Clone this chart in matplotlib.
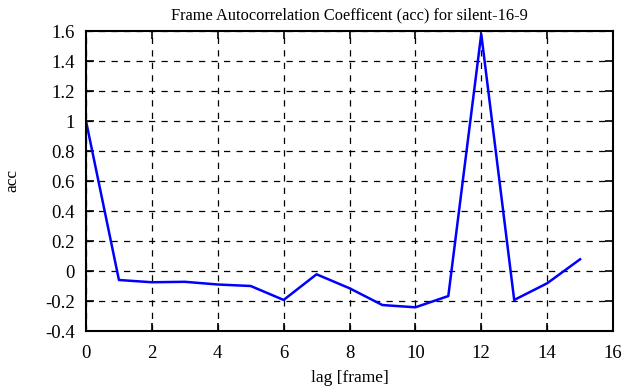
import matplotlib
matplotlib.use("Agg")
import matplotlib.pyplot as plt
from matplotlib.ticker import FuncFormatter, MultipleLocator

lags = list(range(16))
acc = [1.0, -0.06, -0.075, -0.072, -0.09, -0.10, -0.193, -0.022, -0.115,
       -0.227, -0.242, -0.167, 1.58, -0.193, -0.082, 0.078]

title = "Frame Autocorrelation Coefficent (acc) for silent-16-9"
xlabel = "lag [frame]"
ylabel = "acc"

plt.rcParams['font.family'] = ['Liberation Serif', 'DejaVu Serif']
fig = plt.figure(figsize=(6.3, 3.87), dpi=100)
ax = fig.add_axes([86/630, 1-331/387, (613-86)/630, (331-31)/387])
ax.plot(lags, acc, color='#0000ff', lw=1.8)
ax.set_xlim(0, 16)
ax.set_ylim(-0.4, 1.6)
ax.xaxis.set_major_locator(MultipleLocator(2))
ax.yaxis.set_major_locator(MultipleLocator(0.2))
ax.yaxis.set_major_formatter(FuncFormatter(lambda v, p: "%g" % round(v, 6)))
ax.grid(True, color='black', linestyle=(0, (5, 5)), lw=0.9)
ax.tick_params(direction='in', top=True, right=True, length=6, width=1.2,
               labelsize=13.5, colors='black')
ax.tick_params(axis='x', pad=10)
ax.tick_params(axis='y', pad=8)
for s in ax.spines.values():
    s.set_linewidth(1.5)
ax.set_title(title, fontsize=11.8, pad=8)
ax.set_xlabel(xlabel, fontsize=12.5, labelpad=6)
ax.set_ylabel(ylabel, fontsize=12.5, labelpad=18)
fig.savefig("out.png", dpi=100)
